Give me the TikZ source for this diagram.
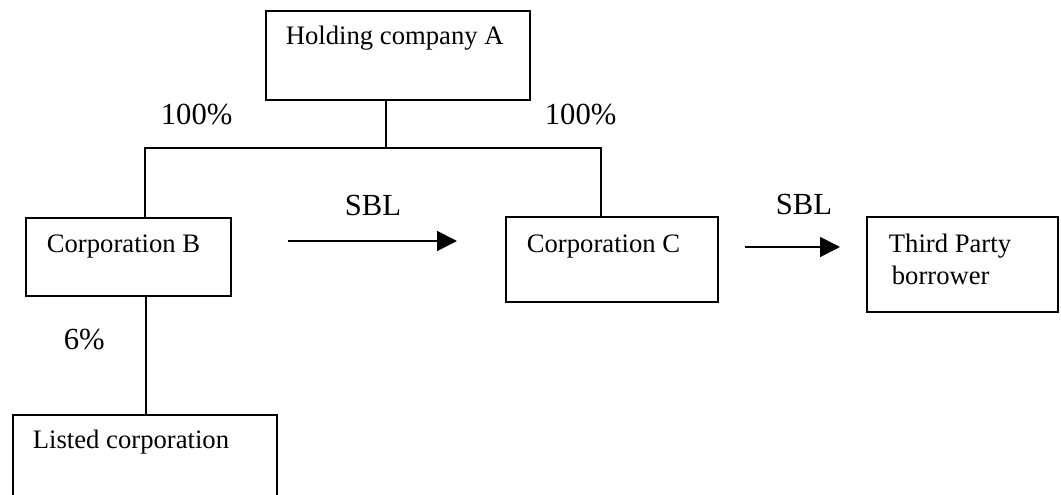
\documentclass[tikz,border=0pt]{standalone}
\usepackage{fontspec}
\setmainfont{Liberation Serif}
\usetikzlibrary{calc, positioning, arrows.meta}

\tikzset{
  box/.style={draw, rectangle, inner sep=0pt, anchor=north west},
  txt/.style={anchor=base west, inner sep=0pt, font=\fontsize{20}{24}\selectfont},
  pct/.style={anchor=base west, inner sep=0pt, font=\fontsize{23}{28}\selectfont},
  sbl/.style={-{Triangle[length=15pt, width=15pt]}},
}

\begin{document}
\begin{tikzpicture}[x=0.75pt, y=-0.75pt, line width=1.3pt]
	\useasboundingbox (0,0) rectangle (1061,495);
	\clip (0,0) rectangle (1061,495); % listed box runs off the page
	\node[box, minimum width=198pt,    minimum height=66.75pt] (holdA)  at (265, 10){};
	\node[box, minimum width=153.75pt, minimum height=58.5pt]  (corpB)  at ( 25,217){};
	\node[box, minimum width=159pt,    minimum height=63.75pt] (corpC)  at (505,216){};
	\node[box, minimum width=143.25pt, minimum height=71.25pt] (third)  at (866,216){};
	\node[box, minimum width=198pt,    minimum height=79.5pt]  (listed) at ( 12,414){};

	\node[txt] (holdAtxt)  at (285, 45) {Holding company A};
	\node[txt] (corpBtxt)  at ( 46,253) {Corporation B};
	\node[txt] (corpCtxt)  at (526,253) {Corporation C};
	\node[txt] (thirdtxt)  at (888,253) {Third Party};
	\node[txt] (thirdtxt2) at (891,285) {borrower};
	\node[txt] (listedtxt) at ( 32,449) {Listed corporation};

	\node[pct] (pctB)  at (160,125) {100\%};
	\node[pct] (pctC)  at (544,125) {100\%};
	\node[pct] (pctL)  at ( 63,350) {6\%};
	\node[pct] (sblA)  at (344,216) {SBL};
	\node[pct] (sblB)  at (775,215) {SBL};

	\coordinate (bus)   at ($(holdA.south)+(-12,47)$);
	\coordinate (loanA) at (288,241);
	\coordinate (loanB) at (457,241);
	\coordinate (loanC) at (745,247);
	\coordinate (loanD) at (840,247);

	\draw ($(holdA.south)+(-12,0)$)  -- (bus)
	      ($(corpB.north)+(16.5,0)$) |- (bus) -| ($(corpC.north)+(-11,0)$)
	      ($(corpB.south)+(17.5,0)$) -- ($(listed.north)+(1,0)$);
	\draw[sbl] (loanA) -- (loanB);
	\draw[sbl] (loanC) -- (loanD);
\end{tikzpicture}
\end{document}
